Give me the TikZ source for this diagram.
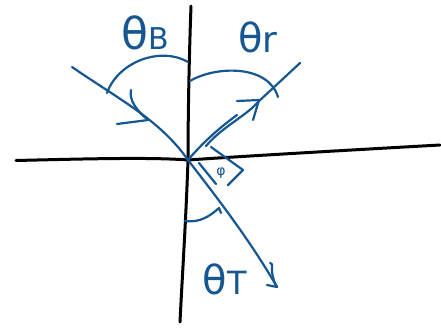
\documentclass[tikz,border=0pt]{standalone}
\usepackage{fontspec}
\setmainfont{DejaVu Sans}
\definecolor{ink}{RGB}{22,86,145}
\begin{document}
\begin{tikzpicture}[x=1pt,y=-1pt,
  axis/.style={line width=3pt,black,line cap=round,line join=round},
  ray/.style={line width=2.2pt,ink,line cap=round,line join=round},
  lbl/.style={ink,inner sep=0pt}]
\useasboundingbox (0,0) rectangle (441,327);
% axes
\coordinate (O) at (188,160);
\coordinate (L) at (16,160.5);
\coordinate (R) at (440,145);
\coordinate (T) at (191,6);
\coordinate (B) at (180,322);
\draw[axis] (L) .. controls (80,159) and (150,157) .. (O) .. controls (230,157) and (350,150) .. (R);
\draw[axis] (T) .. controls (189,60) and (188,120) .. (O) .. controls (186,220) and (182,280) .. (B);
% incident ray
\coordinate (I) at (72,67);
\draw[ray] (I) .. controls (120,100) and (160,120) .. (O);
\coordinate (ia1) at (131,90);
\coordinate (ia2) at (117,124);
\coordinate (iat) at (148,120);
\draw[ray] (ia1) .. controls (129,100) and (136,110) .. (iat);
\draw[ray] (ia2) -- (iat);
% reflected ray (double stroke)
\coordinate (Rf) at (300,63);
\coordinate (rm) at (237,115);
\draw[ray] (O) .. controls (205,140) and (222,126) .. (rm);
\coordinate (rs) at (206,146);
\draw[ray] (rs) .. controls (222,127) and (246,116) .. (258,102) -- (Rf);
\coordinate (ra1) at (237,101);
\coordinate (ra2) at (253,120);
\coordinate (rat) at (259,100);
\draw[ray] (ra1) -- (rat);
\draw[ray] (ra2) -- (rat);
% transmitted ray
\coordinate (Tr) at (277,287);
\draw[ray] (O) .. controls (215,195) and (250,240) .. (Tr);
\draw[ray] (199,163) -- (216,184);
\coordinate (ta1) at (270,263);
\coordinate (ta2) at (267,285);
\draw[ray] (ta1) .. controls (275,262) and (268,272) .. (Tr);
\draw[ray] (ta2) -- (Tr);
% right-angle marker
\coordinate (m1) at (211,147);
\coordinate (m2) at (243,170);
\coordinate (m3) at (228,185);
\draw[ray] (m1) -- (m2) -- (m3);
\node[lbl,font=\fontsize{14}{14}\selectfont] (phi) at (221,173) {φ};
% angle arcs
\coordinate (b1) at (107,93);
\coordinate (b2) at (188,62);
\draw[ray] (b1) .. controls (118,62) and (160,46) .. (b2);
\coordinate (r1) at (190,81);
\coordinate (r2) at (278,97);
\draw[ray] (r1) .. controls (215,66) and (268,64) .. (r2);
\coordinate (t1) at (185,221);
\coordinate (t2) at (219,208);
\draw[ray] (t1) .. controls (200,223) and (210,216) .. (t2) -- (221,213);
% labels
\node[lbl] (thB) at (145,33) {{\fontsize{44}{44}\selectfont θ}{\fontsize{30}{30}\selectfont B}};
\node[lbl] (thr) at (258,37) {{\fontsize{40}{40}\selectfont θ}{\fontsize{36}{36}\selectfont r}};
\node[lbl] (thT) at (225,279) {{\fontsize{40}{40}\selectfont θ}{\fontsize{32}{32}\selectfont T}};
\end{tikzpicture}
\end{document}
